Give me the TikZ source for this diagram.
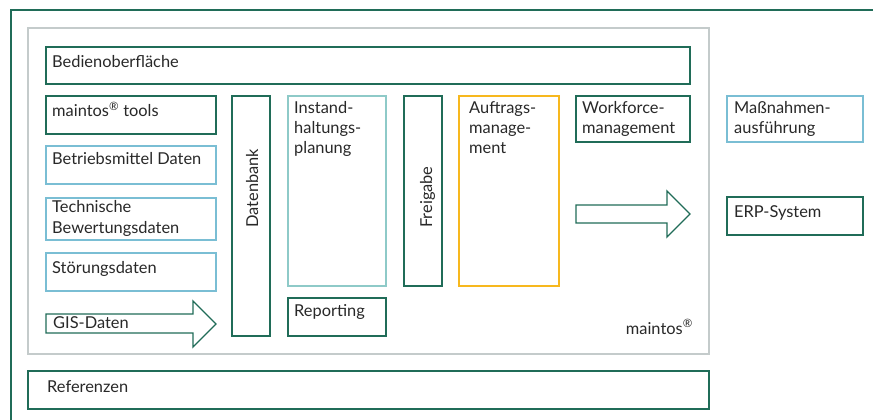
\documentclass[tikz,border=0pt]{standalone}
\usepackage{fontspec}
\setmainfont{Lato}
\definecolor{dkgreen}{RGB}{32,108,88}
\definecolor{ltblue}{RGB}{122,190,212}
\definecolor{ltteal}{RGB}{142,202,200}
\definecolor{frgray}{RGB}{196,203,203}
\definecolor{orng}{RGB}{247,184,30}
\definecolor{txt}{RGB}{40,40,40}
\newcommand{\regmark}{\textsuperscript{®}}
\tikzset{
  boxd/.style={draw=dkgreen,line width=1.3pt},
  boxb/.style={draw=ltblue,line width=1.3pt},
  boxt/.style={draw=ltteal,line width=1.3pt},
  boxo/.style={draw=orng,line width=1.3pt},
  lbl/.style={anchor=base west,inner sep=0pt,text=txt,font=\fontsize{16.4}{20.3}\selectfont,align=left},
}
\begin{document}
\begin{tikzpicture}[x=1pt,y=-1pt]
\useasboundingbox (0,0) rectangle (873,420);
% outer frame
\draw[dkgreen,line width=1.5pt] (11,420) -- (11,10) -- (873,10);
% maintos frame
\draw[frgray,line width=1.6pt] (28,28) rectangle (709,354);
\node[lbl,anchor=base east] (maintos) at (693,334) {maintos\regmark};
% boxes
\draw[boxd] (46,47) rectangle (690,84); \node[lbl] (bed) at (52,67) {Bedienoberfläche};
\draw[boxd] (46,96) rectangle (216,134); \node[lbl] (tools) at (52,117) {maintos\regmark{} tools};
\draw[boxb] (46,146) rectangle (216,184); \node[lbl] (betr) at (52,164) {Betriebsmittel Daten};
\draw[boxb] (46,198) rectangle (216,240); \node[lbl] (tech) at (52,233) {Technische\\Bewertungsdaten};
\draw[boxb] (46,253) rectangle (216,291); \node[lbl] (stoer) at (52,273) {Störungsdaten};
% GIS arrow
\draw[boxd,line join=miter] (46,314) -- (193,314) -- (193,301) -- (216,324) -- (193,347) -- (193,333) -- (46,333) -- cycle;
\node[lbl] (gis) at (53,328) {GIS-Daten};
% Datenbank
\draw[boxd] (232,96) rectangle (270,336);
\node[lbl,rotate=90] (db) at (258,228) {Datenbank};
% Instandhaltung
\draw[boxt] (288,96) rectangle (386,286);
\node[lbl] (inst) at (294,153.6) {Instand-\\haltungs-\\planung};
\draw[boxd] (288,298) rectangle (386,336); \node[lbl] (rep) at (294,316) {Reporting};
% Freigabe
\draw[boxd] (404,96) rectangle (442,286);
\node[lbl,rotate=90] (frei) at (432,228) {Freigabe};
% Auftrag
\draw[boxo] (459,96) rectangle (559,286);
\node[lbl] (auft) at (469,153.6) {Auftrags-\\manage-\\ment};
% Workforce
\draw[boxd] (576,96) rectangle (690,142);
\node[lbl] (wf) at (582,133.3) {Workforce-\\management};
% right arrow
\draw[boxd,line join=miter] (576,205) -- (667,205) -- (667,191) -- (690,214) -- (667,237) -- (667,223) -- (576,223) -- cycle;
% external
\draw[boxb] (727,96) rectangle (863,142);
\node[lbl] (mass) at (734,133.3) {Maßnahmen-\\ausführung};
\draw[boxd] (727,197) rectangle (863,235);
\node[lbl] (erp) at (734,217) {ERP-System};
% Referenzen
\draw[boxd] (28,371) rectangle (709,409);
\node[lbl] (ref) at (47,392) {Referenzen};
\end{tikzpicture}
\end{document}
